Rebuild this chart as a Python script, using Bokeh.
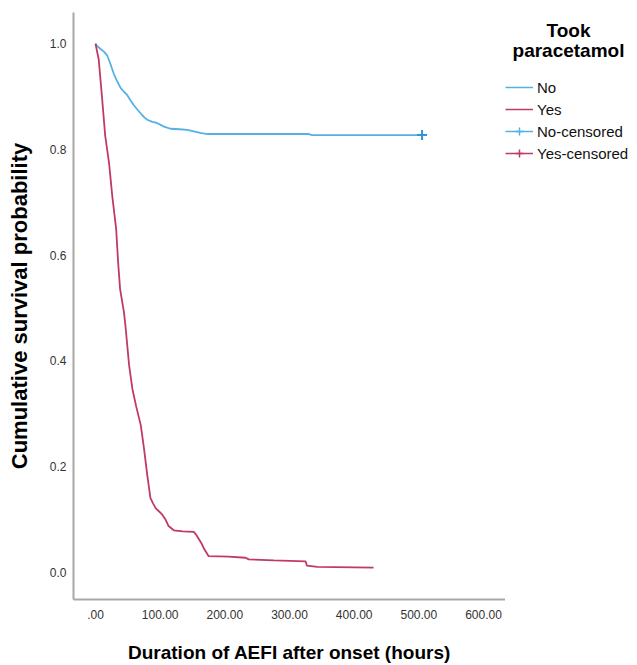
from bokeh.plotting import figure
from bokeh.models import Legend, LegendItem, Label, Range1d, FixedTicker
from bokeh.layouts import row
from bokeh.embed import file_html
from bokeh.resources import INLINE

# ---- data ----
t_no = [0, 3, 8, 13, 18, 23, 28, 33, 39, 44, 49, 54, 59, 65, 72, 76, 80, 88, 95,
        106, 116, 130, 142, 162, 173, 330, 335, 505]
s_no = [1.0, 0.995, 0.99, 0.985, 0.978, 0.962, 0.944, 0.93, 0.916, 0.909, 0.903,
        0.893, 0.884, 0.875, 0.865, 0.86, 0.856, 0.852, 0.850, 0.843, 0.839, 0.838,
        0.837, 0.831, 0.829, 0.829, 0.827, 0.827]

t_yes = [0, 5, 10, 15, 21, 26, 32, 35, 38, 44, 46, 52, 57, 63, 70, 75, 80, 85, 89, 93,
         98, 103, 108, 113, 121, 135, 152, 156, 160, 164, 167, 171, 175, 206, 232, 237,
         276, 325, 327, 343, 430]
s_yes = [1.0, 0.97, 0.90, 0.826, 0.774, 0.711, 0.649, 0.586, 0.536, 0.492, 0.47, 0.391,
         0.347, 0.313, 0.278, 0.234, 0.184, 0.14, 0.13, 0.121, 0.115, 0.109, 0.10, 0.087,
         0.079, 0.077, 0.076, 0.07, 0.062, 0.054, 0.046, 0.038, 0.030, 0.029, 0.027,
         0.024, 0.022, 0.020, 0.012, 0.0098, 0.0085]

cens_no_t = [505]
cens_no_s = [0.827]
cens_yes_t = []
cens_yes_s = []

x_ticks = [0, 100, 200, 300, 400, 500, 600]
x_tick_labels = [".00", "100.00", "200.00", "300.00", "400.00", "500.00", "600.00"]
y_ticks = [0.0, 0.2, 0.4, 0.6, 0.8, 1.0]
y_tick_labels = ["0.0", "0.2", "0.4", "0.6", "0.8", "1.0"]

legend_title = ["Took", "paracetamol"]
group_labels = ["No", "Yes", "No-censored", "Yes-censored"]

BLUE = "#55b0e6"
BLUE_DARK = "#2f93d8"
RED = "#c03a63"
FONT = "Liberation Sans"
NAN = float("nan")

# ---------------- main plot ----------------
p = figure(width=505, height=665,
           x_range=Range1d(-34, 634), y_range=Range1d(-0.052, 1.059),
           output_backend="svg", toolbar_location=None,
           min_border_left=73, min_border_right=0,
           min_border_top=12, min_border_bottom=63)
p.outline_line_color = None
p.xgrid.visible = False
p.ygrid.visible = False

for ax in (p.xaxis[0], p.yaxis[0]):
    ax.axis_line_color = "#a8a8a8"
    ax.axis_line_width = 2
    ax.major_tick_line_color = None
    ax.minor_tick_line_color = None
    ax.major_tick_out = 0
    ax.major_tick_in = 0
    ax.major_label_text_font = FONT
    ax.major_label_text_font_size = "12px"
    ax.major_label_text_color = "#333333"
    ax.axis_label_text_font = FONT
    ax.axis_label_text_font_style = "bold"
    ax.axis_label_text_color = "#000000"

p.xaxis.ticker = FixedTicker(ticks=x_ticks)
p.xaxis.major_label_overrides = {t: l for t, l in zip(x_ticks, x_tick_labels)}
p.yaxis.ticker = FixedTicker(ticks=y_ticks)
p.yaxis.major_label_overrides = {t: l for t, l in zip(y_ticks, y_tick_labels)}
p.xaxis.axis_label = "Duration of AEFI after onset (hours)"
p.yaxis.axis_label = "Cumulative survival probability"
p.xaxis.axis_label_text_font_size = "19px"
p.yaxis.axis_label_text_font_size = "22px"
p.xaxis.major_label_standoff = 10
p.xaxis.axis_label_standoff = 20
p.yaxis.major_label_standoff = 7
p.yaxis.axis_label_standoff = 15

p.line(t_no, s_no, line_color=BLUE, line_width=1.8)
p.line(t_yes, s_yes, line_color=RED, line_width=1.8)
p.scatter(cens_no_t, cens_no_s, marker="cross", size=10,
          line_color=BLUE_DARK, line_width=2)
p.scatter(x=cens_yes_t, y=cens_yes_s, marker="cross", size=10,
          line_color=RED, line_width=2)

# ---------------- legend panel ----------------
q = figure(width=132, height=665, x_range=Range1d(0, 1), y_range=Range1d(0, 1),
           output_backend="svg", toolbar_location=None,
           x_axis_type=None, y_axis_type=None, min_border=0)
q.outline_line_color = None
q.xgrid.visible = False
q.ygrid.visible = False

# legend glyph proxies (nothing visible is plotted: NaN coordinates)
leg_no = q.step(x=[NAN], y=[NAN], line_color=BLUE, line_width=1.5)
leg_yes = q.step(x=[NAN], y=[NAN], line_color=RED, line_width=1.5)
leg_cno_l = q.line(x=[NAN], y=[NAN], line_color=BLUE, line_width=1.5)
leg_cno = q.scatter(x=[NAN], y=[NAN], marker="cross", size=17, line_color=BLUE, line_width=1.5)
leg_cyes_l = q.line(x=[NAN], y=[NAN], line_color=RED, line_width=1.5)
leg_cyes = q.scatter(x=[NAN], y=[NAN], marker="cross", size=17, line_color=RED, line_width=1.5)

legend = Legend(items=[
    LegendItem(label=group_labels[0], renderers=[leg_no]),
    LegendItem(label=group_labels[1], renderers=[leg_yes]),
    LegendItem(label=group_labels[2], renderers=[leg_cno_l, leg_cno]),
    LegendItem(label=group_labels[3], renderers=[leg_cyes_l, leg_cyes]),
], location=(0, 436))
legend.glyph_width = 28
legend.glyph_height = 20
legend.label_standoff = 4
legend.label_text_font = FONT
legend.label_text_font_size = "15px"
legend.label_text_color = "#111111"
legend.border_line_color = None
legend.background_fill_alpha = 0
legend.padding = 2
legend.spacing = 2
legend.margin = 0
q.add_layout(legend)

for txt, yy in zip(legend_title, [569, 549]):
    q.add_layout(Label(x=63, y=yy, x_units="screen", y_units="screen", text=txt,
                       text_align="center", text_baseline="middle",
                       text_font=FONT, text_font_size="19px", text_font_style="bold",
                       text_color="#000000"))

layout = row(p, q, spacing=0)
open("out.html", "w").write(file_html(layout, INLINE))
